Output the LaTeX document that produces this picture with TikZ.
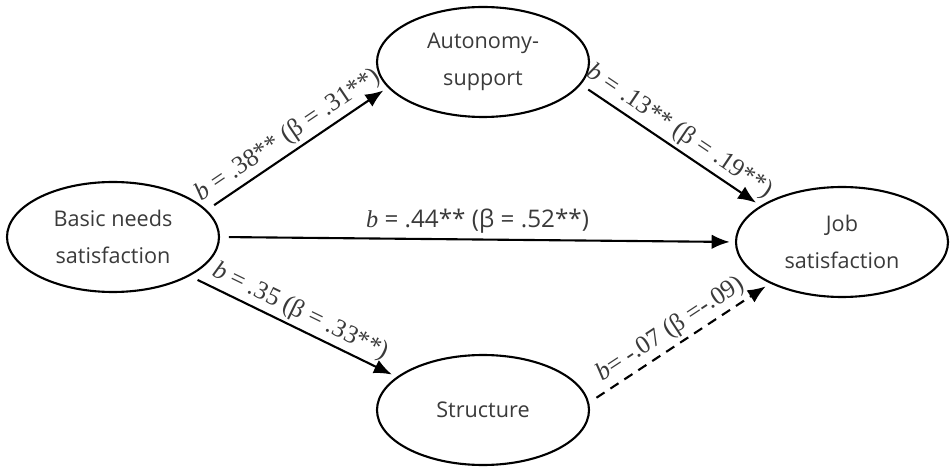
\documentclass[tikz,border=0pt]{standalone}
\usepackage{fontspec}
\newfontfamily\policeNoeud{Open Sans}
\newfontfamily\policeCoef{Liberation Serif}
\usepackage{xcolor}
\definecolor{traitNoir}{HTML}{000000}
\definecolor{texteGris}{HTML}{3A3A3A}
\usepackage{tikz}
\usetikzlibrary{arrows.meta, shapes.geometric}
\tikzset{
  %% ── Boites ───────────────────────────────────────────────────────────
  facteur/.style    = {ellipse, draw=traitNoir, line width=1.2pt,
                       minimum width=4.24cm, minimum height=2.2cm,
                       inner sep=0pt, align=center, text=texteGris,
                       font=\policeNoeud\fontsize{12.3}{21}\selectfont},
  %%
  %% ── Fleches ──────────────────────────────────────────────────────────
  fleche/.style     = {-{Latex[length=3.6mm, width=2.9mm]}, draw=traitNoir,
                       line width=1.2pt, shorten <=5pt, shorten >=3pt},
  flecheNS/.style   = {fleche, dash pattern=on 5.5pt off 4pt},
  %%
  %% ── Texte ────────────────────────────────────────────────────────────
  coef/.style       = {font=\policeCoef\fontsize{14.5}{16}\selectfont,
                       text=texteGris, midway, sloped, above, inner sep=2pt},
  coefDroit/.style  = {font=\policeNoeud\fontsize{13.8}{16}\selectfont,
                       text=texteGris, midway, above, inner sep=3pt},
}

\begin{document}
\begin{tikzpicture}[x=1cm, y=1cm]

%% Cadre : 0,02 cm par pixel de l'original.
\useasboundingbox (0,0) rectangle (19,-9.36);

%% Les quatre facteurs.
\node[facteur] (besoins)      at (2.26, -4.74)  {Basic needs\\satisfaction};
\node[facteur] (autonomie)    at (9.66, -1.24)  {Autonomy-\\support};
\node[facteur] (structure)    at (9.66, -8.20)  {Structure};
\node[facteur] (satisfaction) at (16.84, -4.84) {Job\\satisfaction};

%% Les chemins et leurs coefficients.
\draw[fleche] (besoins.16) -- (autonomie.195)
  node[coef] {\textit{b} = .38** (β = .31**)};
\draw[fleche] (autonomie.347) -- (satisfaction.156)
  node[coef] {\textit{b} = .13** (β = .19**)};
\draw[fleche] (besoins.east) -- (satisfaction.west)
  node[coefDroit] {{\policeCoef\itshape b} = .44** (β = .52**)};
\draw[fleche] (besoins.333) -- (structure.159)
  node[coef] {\textit{b} = .35 (β = .33**)};

%% Le seul chemin non significatif.
\draw[flecheNS] (structure.4) -- (satisfaction.210)
  node[coef] {\textit{b}= -.07 (β =-.09)};

\end{tikzpicture}
\end{document}
